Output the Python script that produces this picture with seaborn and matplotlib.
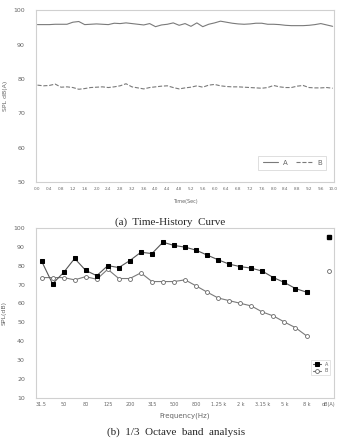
import numpy as np
import matplotlib
matplotlib.use("Agg")
import matplotlib.pyplot as plt
import pandas as pd
import seaborn as sns

# Time-history data (0.2 s steps)
time_sec = [round(0.2 * i, 1) for i in range(51)]
spl_a = [95.8, 95.8, 95.8, 95.9, 95.9, 95.9, 96.5, 96.7, 95.8, 95.9,
         96.0, 95.9, 95.8, 96.2, 96.1, 96.3, 96.1, 95.9, 95.7, 96.1,
         95.2, 95.7, 95.9, 96.3, 95.6, 96.1, 95.3, 96.3, 95.2, 95.9,
         96.3, 96.8, 96.5, 96.2, 96.0, 95.9, 96.0, 96.2, 96.2, 95.9,
         95.9, 95.8, 95.6, 95.5, 95.5, 95.5, 95.6, 95.8, 96.1, 95.7,
         95.3]
spl_b = [78.2, 78.0, 78.1, 78.5, 77.6, 77.7, 77.5, 77.0, 77.2, 77.5,
         77.6, 77.7, 77.5, 77.7, 78.0, 78.6, 77.7, 77.4, 77.1, 77.5,
         77.7, 77.9, 78.0, 77.5, 77.1, 77.4, 77.6, 78.0, 77.6, 78.2,
         78.4, 78.0, 77.8, 77.7, 77.7, 77.6, 77.5, 77.4, 77.3, 77.5,
         78.1, 77.7, 77.5, 77.5, 77.9, 78.1, 77.5, 77.4, 77.4, 77.5,
         77.3]
time_ticks = [round(0.4 * i, 1) for i in range(26)]

# 1/3 octave band data
bands = ["31.5", "40", "50", "63", "80", "100", "125", "160", "200", "250",
         "315", "400", "500", "630", "800", "1 k", "1.25 k", "1.6 k", "2 k", "2.5 k",
         "3.15 k", "4 k", "5 k", "6.3 k", "8 k", "10 k", "dB(A)"]
band_a = [82.5, 70.4, 76.4, 83.8, 77.5, 74.7, 80.0, 79.0, 82.7, 87.1,
          86.4, 92.4, 90.7, 89.8, 88.2, 85.6, 83.1, 80.8, 79.5, 78.7,
          77.1, 73.7, 71.1, 67.9, 66.0]
band_b = [73.7, 73.7, 73.7, 72.5, 74.2, 72.8, 78.1, 73.2, 73.2, 76.2,
          71.6, 71.6, 71.6, 72.5, 69.3, 66.0, 62.9, 61.5, 60.1, 58.7,
          55.5, 53.4, 50.2, 47.2, 42.9]
total_a = 95.2
total_b = 77.1

sns.set_style("white")
plt.rcParams['font.family'] = ['DejaVu Sans']

fig = plt.figure(figsize=(3.38, 4.42), dpi=100)
ax1 = fig.add_axes([0.1065, 0.588, 0.882, 0.389])
ax2 = fig.add_axes([0.1065, 0.0995, 0.882, 0.385])

line_col = "#7a7a7a"
frame_col = "#d0d0d0"
tick_col = "#666666"

# (a) time history
df_t = pd.DataFrame({"t": time_sec, "A": spl_a, "B": spl_b})
sns.lineplot(data=df_t, x="t", y="A", ax=ax1, color=line_col, lw=0.8, label="A")
sns.lineplot(data=df_t, x="t", y="B", ax=ax1, color=line_col, lw=0.8,
             linestyle="--", label="B")
ax1.set_xlim(-0.05, 10.05)
ax1.set_ylim(50, 100)
ax1.set_yticks([50, 60, 70, 80, 90, 100])
ax1.set_xticks(time_ticks)
ax1.set_xticklabels([f"{t:.1f}" for t in time_ticks], fontsize=3)
ax1.tick_params(axis="y", labelsize=4.5, colors=tick_col, length=0, pad=8)
ax1.tick_params(axis="x", colors=tick_col, length=1.5, width=0.4, pad=2, color=frame_col)
ax1.set_xlabel("Time(Sec)", fontsize=3.5, color=tick_col, labelpad=6)
ax1.set_ylabel("SPL dB(A)", fontsize=4.5, color=tick_col, labelpad=4)
leg1 = ax1.legend(loc="lower right", ncol=2, fontsize=5, frameon=True, fancybox=False,
                  handlelength=2.2, borderpad=0.6, columnspacing=1.2,
                  bbox_to_anchor=(0.985, 0.05))
leg1.get_frame().set_edgecolor(frame_col)
leg1.get_frame().set_linewidth(0.6)
for txt in leg1.get_texts():
    txt.set_color(tick_col)

# (b) 1/3 octave band
pos = list(range(len(band_a)))
df_f = pd.DataFrame({"pos": pos, "A": band_a, "B": band_b})
sns.lineplot(data=df_f, x="pos", y="B", ax=ax2, color=line_col, lw=0.8,
             marker="o", markersize=2.8, markerfacecolor="white",
             markeredgecolor="#666666", markeredgewidth=0.6, label="B")
sns.lineplot(data=df_f, x="pos", y="A", ax=ax2, color="#555555", lw=0.8,
             marker="s", markersize=2.2, markerfacecolor="black",
             markeredgecolor="black", label="A")
last = len(bands) - 1
ax2.plot([last], [total_a], marker="s", ms=2.2, color="black", ls="none")
ax2.plot([last], [total_b], marker="o", ms=2.8, mfc="white", mec="#666666",
         mew=0.6, ls="none")
ax2.set_xlim(-0.4, last + 0.4)
ax2.set_ylim(10, 100)
ax2.set_yticks(range(10, 101, 10))
ax2.set_xticks(range(0, len(bands), 2))
ax2.set_xticklabels(bands[::2], fontsize=3.5)
ax2.set_xticks(np.arange(-0.5, last + 1, 1), minor=True)
ax2.tick_params(axis="y", labelsize=4.5, colors=tick_col, length=0, pad=8)
ax2.tick_params(axis="x", which="major", colors=tick_col, length=0, pad=3)
ax2.tick_params(axis="x", which="minor", length=1.5, width=0.4, color=frame_col)
ax2.set_xlabel("Frequency(Hz)", fontsize=5, color=tick_col, labelpad=4)
ax2.set_ylabel("SPL(dB)", fontsize=4.5, color=tick_col, labelpad=5)
handles, labels = ax2.get_legend_handles_labels()
order = [labels.index("A"), labels.index("B")]
leg2 = ax2.legend([handles[i] for i in order], [labels[i] for i in order],
                  loc="lower right", fontsize=3.5, frameon=True, fancybox=False,
                  handlelength=1.6, borderpad=0.4, labelspacing=0.3,
                  bbox_to_anchor=(0.995, 0.12))
leg2.get_frame().set_edgecolor(frame_col)
leg2.get_frame().set_linewidth(0.5)
for txt in leg2.get_texts():
    txt.set_color(tick_col)

for ax in (ax1, ax2):
    for sp in ax.spines.values():
        sp.set_color(frame_col)
        sp.set_linewidth(0.8)

fig.text(0.503, 0.497, "(a)  Time-History  Curve", ha="center", va="center",
         fontsize=8, family="Liberation Serif")
fig.text(0.52, 0.023, "(b)  1/3  Octave  band  analysis", ha="center", va="center",
         fontsize=8, family="Liberation Serif")

fig.savefig("out.png", dpi=100)
